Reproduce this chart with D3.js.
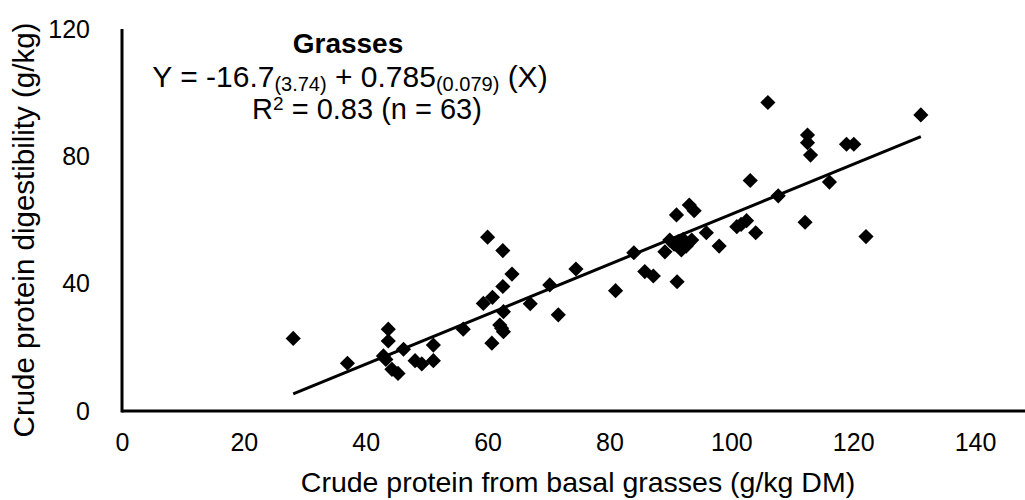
<!DOCTYPE html>
<html>
<head>
<meta charset="utf-8">
<script src="https://cdn.jsdelivr.net/npm/d3@7"></script>
<style>
  html, body { margin: 0; padding: 0; background: #fff; }
  svg { display: block; font-family: "Liberation Sans", Arial, sans-serif; }
</style>
</head>
<body>
<svg id="chart" width="1025" height="500"></svg>
<script>
// Crude protein from basal grasses (g/kg DM)
const cpGrass = [28.1, 37.0, 43.7, 43.7, 42.9, 43.3, 46.2, 44.3, 45.3, 48.1, 49.2, 51.1, 51.1, 56.0, 59.3, 60.8, 62.5, 64.0, 60.0, 62.5, 62.6, 62.0, 62.6, 60.7, 62.3, 67.0, 70.2, 71.6,
  74.5, 81.0, 84.0, 85.8, 87.2, 91.0, 93.1, 93.9, 89.9, 89.1, 91.3, 92.1, 93.5, 91.8, 92.6, 90.6, 91.1, 95.9, 98.0, 100.9, 102.5, 101.6, 104.0, 103.1, 106.0, 107.7, 112.1, 112.5, 112.5, 113.0, 116.1, 118.9, 120.1, 122.1, 131.1];
// Crude protein digestibility (g/kg)
const cpDig = [22.8, 15.0, 25.7, 22.0, 17.3, 16.2, 19.4, 13.1, 11.8, 15.8, 14.8, 20.7, 15.8, 25.7, 33.8, 35.7, 39.1, 43.0, 54.6, 50.4, 31.2, 27.0, 24.9, 21.3, 26.0, 33.7, 39.6, 30.2,
  44.6, 37.8, 49.7, 43.8, 42.4, 61.6, 64.7, 62.9, 53.7, 50.0, 53.2, 53.9, 53.7, 50.6, 51.8, 52.4, 40.6, 56.0, 51.8, 57.9, 59.8, 58.6, 56.0, 72.4, 96.9, 67.6, 59.3, 86.7, 84.3, 80.4, 71.9, 83.8, 83.8, 54.8, 93.0];
const xTicks = [0, 20, 40, 60, 80, 100, 120, 140];
const yTicks = [0, 40, 80, 120];
const intercept = -16.7;
const slope = 0.785;

const svg = d3.select("#chart");
const x = d3.scaleLinear().domain([0, 150]).range([122, 1036]);
const y = d3.scaleLinear().domain([0, 120]).range([411, 29]);

// axes lines
svg.append("line").attr("x1", x(0)).attr("x2", 1025).attr("y1", y(0)).attr("y2", y(0))
  .attr("stroke", "#000").attr("stroke-width", 3);
svg.append("line").attr("x1", x(0)).attr("x2", x(0)).attr("y1", y(0) + 1.5).attr("y2", y(120))
  .attr("stroke", "#000").attr("stroke-width", 3);

// tick labels via d3 axes
const xAxis = svg.append("g").attr("transform", `translate(0,${y(0)})`)
  .call(d3.axisBottom(x).tickValues(xTicks).tickSize(0).tickPadding(22));
xAxis.select(".domain").remove();
xAxis.selectAll("text").attr("font-size", 25).attr("font-family", "Liberation Sans, Arial, sans-serif").attr("fill", "#000");

const yAxis = svg.append("g").attr("transform", `translate(${x(0)},0)`)
  .call(d3.axisLeft(y).tickValues(yTicks).tickSize(0).tickPadding(32));
yAxis.select(".domain").remove();
yAxis.selectAll("text").attr("font-size", 25).attr("font-family", "Liberation Sans, Arial, sans-serif").attr("fill", "#000");

// axis titles
svg.append("text").attr("x", 578).attr("y", 492).attr("text-anchor", "middle")
  .attr("font-size", 28.5).text("Crude protein from basal grasses (g/kg DM)");
svg.append("text").attr("transform", "translate(34,230) rotate(-90)").attr("text-anchor", "middle")
  .attr("font-size", 29.5).text("Crude protein digestibility (g/kg)");

// regression line
const xr = d3.extent(cpGrass);
svg.append("line")
  .attr("x1", x(xr[0])).attr("y1", y(intercept + slope * xr[0]))
  .attr("x2", x(xr[1])).attr("y2", y(intercept + slope * xr[1]))
  .attr("stroke", "#000").attr("stroke-width", 3);

// points
const pts = cpGrass.map((v, i) => [v, cpDig[i]]);
const sym = d3.symbol(d3.symbolSquare, 115);
svg.append("g").selectAll("path").data(pts).join("path")
  .attr("d", sym)
  .attr("transform", d => `translate(${x(d[0])},${y(d[1])}) rotate(45)`)
  .attr("fill", "#000");

// annotation
svg.append("text").attr("x", 348).attr("y", 53).attr("text-anchor", "middle")
  .attr("font-size", 28).attr("font-weight", "bold").text("Grasses");
const eq = svg.append("text").attr("x", 350).attr("y", 87).attr("text-anchor", "middle").attr("font-size", 30);
eq.append("tspan").text("Y = -16.7");
eq.append("tspan").attr("font-size", 20).attr("dy", 4).text("(3.74)");
eq.append("tspan").attr("dy", -4).text(" + 0.785");
eq.append("tspan").attr("font-size", 20).attr("dy", 4).text("(0.079)");
eq.append("tspan").attr("dy", -4).text(" (X)");
const r2 = svg.append("text").attr("x", 367).attr("y", 119).attr("text-anchor", "middle").attr("font-size", 29);
r2.append("tspan").text("R");
r2.append("tspan").attr("font-size", 19).attr("dy", -9).text("2");
r2.append("tspan").attr("dy", 9).text(" = 0.83 (n = 63)");
</script>
</body>
</html>
